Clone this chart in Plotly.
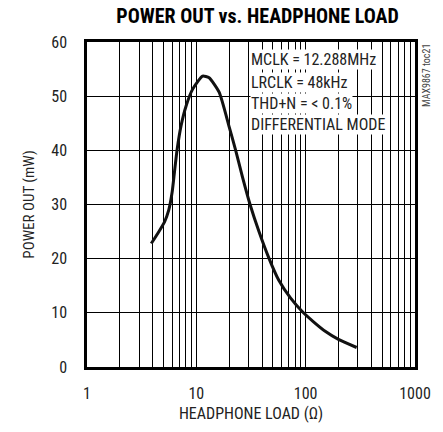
import plotly.graph_objects as go

load_ohm = [3.87, 4.45, 5.12, 5.6, 6.01, 6.31, 6.67, 7.26, 8.06, 9.26, 11.4, 13.1, 16.2, 20.0,
            22.9, 26.4, 31.0, 37.4, 46.1, 56.8, 72.6, 92.5, 118.0, 151.0, 199.5, 292.7]
power_mw = [22.8, 24.7, 26.8, 29.0, 32.3, 36.0, 40.1, 44.6, 48.2, 51.3, 53.7, 53.4, 50.7, 44.3,
            40.0, 35.1, 30.0, 25.0, 20.1, 16.0, 12.75, 10.3, 8.35, 6.6, 5.1, 3.6]

x_ticks = [1, 10, 100, 1000]
y_ticks = [0, 10, 20, 30, 40, 50, 60]
notes = ["MCLK = 12.288MHz", "LRCLK = 48kHz", "THD+N = < 0.1%", "DIFFERENTIAL MODE"]

font_fam = "Liberation Sans Narrow, Roboto Condensed, Arial Narrow, Liberation Sans, sans-serif"

fig = go.Figure()
fig.add_trace(go.Scatter(x=load_ohm, y=power_mw, mode="lines",
                         line=dict(color="#111", width=3, shape="spline", smoothing=0.5),
                         showlegend=False, hoverinfo="skip"))

fig.update_layout(
    width=443, height=432,
    margin=dict(l=87, r=27, t=42, b=62),
    paper_bgcolor="white", plot_bgcolor="white",
    font=dict(family=font_fam, size=16, color="#222"),
    title=dict(text="<b>POWER OUT vs. HEADPHONE LOAD</b>", xref="paper", x=0.52, xanchor="center",
               y=0.963, yanchor="middle", font=dict(size=20, color="black", family=font_fam)),
)
fig.update_xaxes(type="log", range=[0, 3], tickvals=x_ticks, ticktext=[str(v) for v in x_ticks],
                 showgrid=True, gridcolor="black", gridwidth=1,
                 minor=dict(showgrid=True, gridcolor="black", gridwidth=1, dtick="D1", ticks=""),
                 showline=True, linecolor="black", linewidth=2.5, mirror=True,
                 ticks="", ticklabelstandoff=10, tickfont=dict(size=16, color="#222"),
                 title=dict(text="HEADPHONE LOAD (Ω)", font=dict(size=16, color="#222"), standoff=6),
                 zeroline=False)
fig.update_yaxes(range=[0, 60], tickvals=y_ticks,
                 showgrid=True, gridcolor="black", gridwidth=1,
                 showline=True, linecolor="black", linewidth=2.5, mirror=True,
                 ticks="", ticklabelstandoff=14, tickfont=dict(size=16, color="#222"),
                 title=dict(text="POWER OUT (mW)", font=dict(size=15, color="#222"), standoff=14),
                 zeroline=False)

ys = [0.945, 0.876, 0.812, 0.745]
for txt, yy in zip(notes, ys):
    fig.add_annotation(text=txt, xref="paper", yref="paper", x=0.498, y=yy,
                       xanchor="left", yanchor="middle", showarrow=False,
                       bgcolor="white", borderpad=0,
                       font=dict(size=16, color="#222", family=font_fam))

fig.add_annotation(text="MAX9867 toc21", xref="paper", yref="paper", x=1.035, y=1.0,
                   xanchor="center", yanchor="top", textangle=-90, showarrow=False,
                   font=dict(size=10, color="#444", family=font_fam))

fig.write_html("out.html", config={"displayModeBar": False},
               post_script="document.body.style.margin='0';document.body.style.overflow='hidden';")
